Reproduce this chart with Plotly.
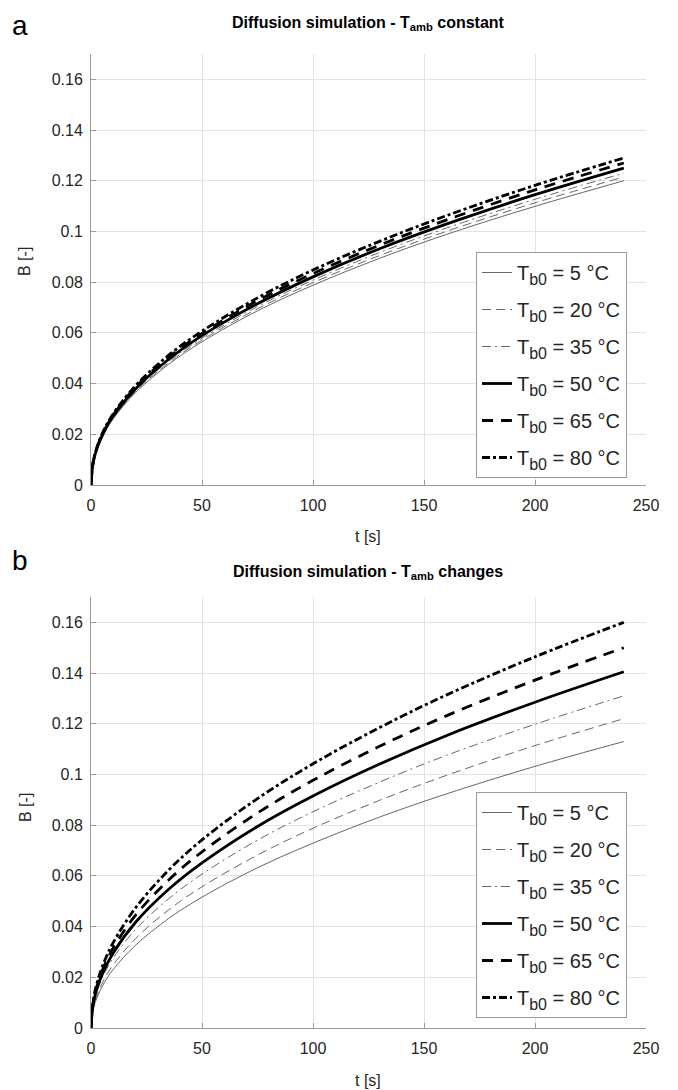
import plotly.graph_objects as go

# ---------------- data ----------------
t = [0, 1, 3, 6, 10, 20, 35, 50, 75, 100, 130, 160, 200, 240]

series_names = ["5", "20", "35", "50", "65", "80"]

# panel a: T_amb constant
a_5 = [0, 0.0086, 0.0147, 0.0204, 0.0261, 0.0364, 0.0476, 0.0565, 0.0687, 0.0788, 0.0894, 0.0988, 0.1099, 0.1200]
a_20 = [0, 0.0087, 0.0148, 0.0207, 0.0264, 0.0369, 0.0482, 0.0572, 0.0695, 0.0798, 0.0905, 0.1000, 0.1113, 0.1215]
a_35 = [0, 0.0089, 0.0150, 0.0209, 0.0268, 0.0373, 0.0488, 0.0579, 0.0704, 0.0808, 0.0917, 0.1013, 0.1127, 0.1230]
a_50 = [0, 0.0090, 0.0153, 0.0213, 0.0272, 0.0379, 0.0496, 0.0589, 0.0715, 0.0821, 0.0932, 0.1029, 0.1145, 0.1250]
a_65 = [0, 0.0091, 0.0155, 0.0216, 0.0276, 0.0385, 0.0504, 0.0598, 0.0727, 0.0834, 0.0946, 0.1045, 0.1164, 0.1270]
a_80 = [0, 0.0093, 0.0158, 0.0220, 0.0281, 0.0391, 0.0512, 0.0607, 0.0738, 0.0848, 0.0961, 0.1062, 0.1182, 0.1290]

# panel b: T_amb changes
b_5 = [0, 0.0073, 0.0126, 0.0179, 0.0231, 0.0326, 0.0432, 0.0516, 0.0632, 0.0729, 0.0832, 0.0923, 0.1032, 0.1130]
b_20 = [0, 0.0079, 0.0136, 0.0193, 0.0249, 0.0352, 0.0466, 0.0557, 0.0682, 0.0788, 0.0898, 0.0996, 0.1114, 0.1220]
b_35 = [0, 0.0089, 0.0153, 0.0215, 0.0276, 0.0388, 0.0510, 0.0607, 0.0741, 0.0853, 0.0970, 0.1075, 0.1198, 0.1310]
b_50 = [0, 0.0096, 0.0164, 0.0230, 0.0296, 0.0416, 0.0547, 0.0651, 0.0795, 0.0915, 0.1041, 0.1153, 0.1285, 0.1405]
b_65 = [0, 0.0102, 0.0175, 0.0246, 0.0316, 0.0444, 0.0584, 0.0695, 0.0848, 0.0977, 0.1111, 0.1231, 0.1372, 0.1500]
b_80 = [0, 0.0109, 0.0187, 0.0262, 0.0337, 0.0473, 0.0623, 0.0742, 0.0905, 0.1042, 0.1185, 0.1313, 0.1464, 0.1600]

x_ticks = [0, 50, 100, 150, 200, 250]
y_ticks = [0, 0.02, 0.04, 0.06, 0.08, 0.1, 0.12, 0.14, 0.16]
y_ticktext = ["0", "0.02", "0.04", "0.06", "0.08", "0.1", "0.12", "0.14", "0.16"]

title_a = "Diffusion simulation - T<sub>amb</sub> constant"
title_b = "Diffusion simulation - T<sub>amb</sub> changes"

# ---------------- styles ----------------
OFF = 8  # page body margin
W, H = 678 - OFF, 1090 - OFF
FONT = "Liberation Sans, Arial, Helvetica, sans-serif"
TXT = "#262626"
AX = "#9a9a9a"
GRID = "#e3e3e3"

styles = [
    dict(color="#555555", width=0.9, dash="solid"),
    dict(color="#555555", width=0.9, dash="9px,5px"),
    dict(color="#555555", width=0.9, dash="9px,4px,2px,4px"),
    dict(color="#000000", width=2.8, dash="solid"),
    dict(color="#000000", width=2.8, dash="11px,8px"),
    dict(color="#000000", width=2.8, dash="8px,3px,3px,3px"),
]


def px_x(x):
    return (x - OFF) / W


def px_y(y):
    return 1 - (y - OFF) / H


def label(name):
    return "T<sub><span style='font-size:16px'>b0</span></sub> = " + name + " °C"


fig = go.Figure()

panels = [
    ([a_5, a_20, a_35, a_50, a_65, a_80], "x", "y", "legend"),
    ([b_5, b_20, b_35, b_50, b_65, b_80], "x2", "y2", "legend2"),
]

for data, xa, ya, lg in panels:
    for i, (vals, nm) in enumerate(zip(data, series_names)):
        fig.add_trace(go.Scatter(
            x=t, y=vals, mode="lines", name=label(nm),
            line=dict(shape="spline", **styles[i]),
            xaxis=xa, yaxis=ya, legend=lg, legendgroup=lg + nm,
            showlegend=True,
        ))

x_dom = [px_x(91), px_x(646)]
ya_dom = [px_y(485), px_y(54)]
yb_dom = [px_y(1028), px_y(597)]

common_x = dict(
    range=[0, 250], tickvals=x_ticks, showgrid=True, gridcolor=GRID, gridwidth=1,
    showline=True, linecolor=AX, linewidth=1, ticks="inside", ticklen=5, tickcolor=AX,
    zeroline=False, tickfont=dict(family=FONT, size=16, color=TXT),
    ticklabelstandoff=6, fixedrange=True, automargin=False,
)
common_y = dict(
    range=[0, 0.17], tickvals=y_ticks, ticktext=y_ticktext, showgrid=True, gridcolor=GRID,
    gridwidth=1, showline=True, linecolor=AX, linewidth=1, ticks="inside", ticklen=5,
    tickcolor=AX, zeroline=False, tickfont=dict(family=FONT, size=16, color=TXT),
    ticklabelstandoff=4, fixedrange=True, automargin=False,
)

legend_common = dict(
    bgcolor="white", bordercolor=AX, borderwidth=1,
    font=dict(family=FONT, size=20, color=TXT),
    xanchor="left", yanchor="top", tracegroupgap=8, itemwidth=30,
)

fig.update_layout(
    width=W, height=H,
    margin=dict(l=0, r=0, t=0, b=0),
    paper_bgcolor="white", plot_bgcolor="white",
    xaxis=dict(domain=x_dom, anchor="y", **common_x),
    yaxis=dict(domain=ya_dom, anchor="x", **common_y),
    xaxis2=dict(domain=x_dom, anchor="y2", **common_x),
    yaxis2=dict(domain=yb_dom, anchor="x2", **common_y),
    legend=dict(x=px_x(476), y=px_y(252), **legend_common),
    legend2=dict(x=px_x(476), y=px_y(792), **legend_common),
    showlegend=True,
)

annotations = [
    dict(text="a", x=px_x(10), y=1, xanchor="left", yanchor="top",
         font=dict(family=FONT, size=28, color="black")),
    dict(text="b", x=px_x(10), y=px_y(560), xanchor="left", yanchor="middle",
         font=dict(family=FONT, size=28, color="black")),
    dict(text="<b>" + title_a + "</b>", x=px_x(368), y=px_y(24), xanchor="center", yanchor="middle",
         font=dict(family=FONT, size=16, color="black")),
    dict(text="<b>" + title_b + "</b>", x=px_x(368), y=px_y(572), xanchor="center", yanchor="middle",
         font=dict(family=FONT, size=16, color="black")),
    dict(text="t [s]", x=px_x(368), y=px_y(536), xanchor="center", yanchor="middle",
         font=dict(family=FONT, size=16, color=TXT)),
    dict(text="t [s]", x=px_x(368), y=px_y(1080), xanchor="center", yanchor="middle",
         font=dict(family=FONT, size=16, color=TXT)),
    dict(text="B [-]", x=px_x(25), y=px_y(262), xanchor="center", yanchor="middle", textangle=-90,
         font=dict(family=FONT, size=16, color=TXT)),
    dict(text="B [-]", x=px_x(25), y=px_y(808), xanchor="center", yanchor="middle", textangle=-90,
         font=dict(family=FONT, size=16, color=TXT)),
]
for a in annotations:
    a.update(xref="paper", yref="paper", showarrow=False)
fig.update_layout(annotations=annotations)

fig.write_html("out.html")
